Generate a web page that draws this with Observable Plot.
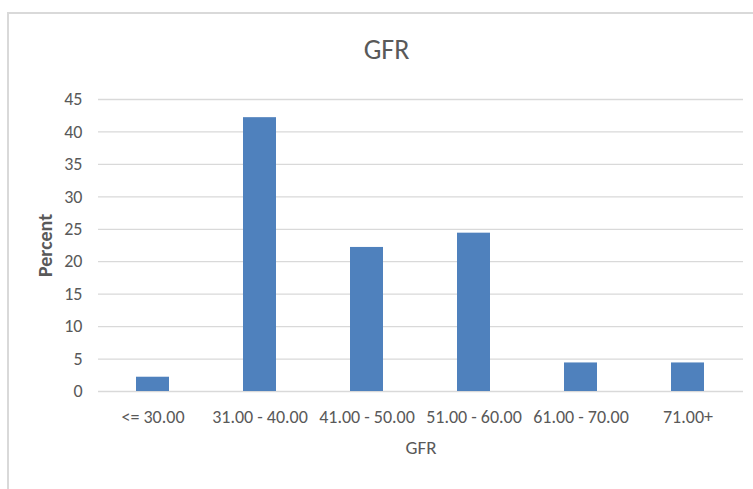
<!DOCTYPE html>
<html>
<head>
<meta charset="utf-8">
<script src="https://cdn.jsdelivr.net/npm/d3@7"></script>
<script src="https://cdn.jsdelivr.net/npm/@observablehq/plot@0.6"></script>
<style>
  body { margin: 0; background: #fff; }
  #wrap { position: relative; width: 753px; height: 489px; overflow: hidden; font-family: Carlito, Calibri, Lato, "Open Sans", sans-serif; }
  #frame { position: absolute; left: 7px; top: 12px; width: 760px; height: 500px; border-left: 2px solid #d9d9d9; border-top: 2px solid #d9d9d9; box-sizing: border-box; }
  #title { position: absolute; left: 10px; width: 753px; top: 32px; text-align: center; font-size: 28px; color: #595959; }
  #chart { position: absolute; left: 0; top: 0; }
</style>
</head>
<body>
<div id="wrap">
  <div id="frame"></div>
  <div id="chart"></div>
  <div id="title">GFR</div>
</div>
<script>
const categories = ["<= 30.00", "31.00 - 40.00", "41.00 - 50.00", "51.00 - 60.00", "61.00 - 70.00", "71.00+"];
const percents = [2.2, 42.2, 22.2, 24.4, 4.4, 4.4];
const yTicks = [0, 5, 10, 15, 20, 25, 30, 35, 40, 45];

const data = categories.map((c, i) => ({category: c, percent: percents[i]}));

const chart = Plot.plot({
  width: 753,
  height: 489,
  marginLeft: 98,
  marginRight: 10,
  marginTop: 99,
  marginBottom: 98,
  style: {fontFamily: "Carlito, Calibri, Lato, 'Open Sans', sans-serif", fontSize: "18px", color: "#595959", background: "transparent"},
  x: {domain: categories, paddingInner: 0.69, paddingOuter: 0.345, label: null},
  y: {domain: [0, 45], ticks: yTicks, label: null},
  marks: [
    Plot.gridY(yTicks, {stroke: "#d9d9d9", strokeOpacity: 1, strokeWidth: 1.3}),
    Plot.barY(data, {x: "category", y: "percent", fill: "#4f81bd"}),
    Plot.axisY(yTicks, {tickSize: 0, tickPadding: 16, fontSize: 18, fill: "#595959"}),
    Plot.axisX({tickSize: 0, tickPadding: 19, fontSize: 18, fill: "#595959", label: null}),
    Plot.text(["GFR"], {frameAnchor: "bottom", dy: 62, fontSize: 19, fill: "#595959"}),
    Plot.text(["Percent"], {frameAnchor: "left", textAnchor: "middle", dx: -53, rotate: -90, fontSize: 20, fontWeight: "bold", fill: "#595959"})
  ]
});
document.getElementById("chart").appendChild(chart);
</script>
</body>
</html>
